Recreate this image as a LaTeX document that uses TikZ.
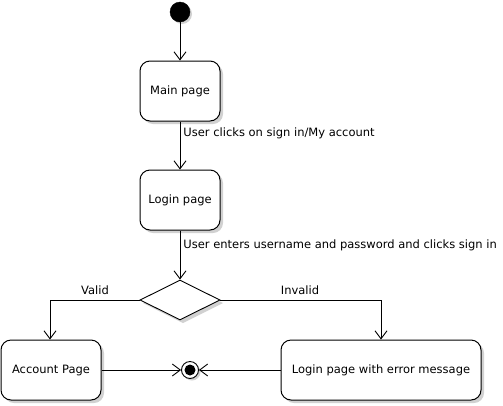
\documentclass[tikz,border=0pt]{standalone}
\usepackage{fontspec}
\setmainfont{DejaVu Sans}
\usetikzlibrary{arrows.meta,shapes.geometric}
\tikzset{
  every node/.style={font=\fontsize{11.5}{13}\selectfont},
  state/.style={draw=black,line width=1pt,rounded corners=10pt,fill=white,align=center,inner sep=0pt},
  shadowbox/.style={fill=black!18,rounded corners=10pt,draw=none},
  conn/.style={draw=black,line width=0.9pt,-{Straight Barb[length=8pt,width=12pt,line width=0.9pt]}},
  lbl/.style={inner sep=0pt,anchor=west},
}
\begin{document}
\begin{tikzpicture}[x=1pt,y=-1pt]
\useasboundingbox (0,0) rectangle (503,405);
% shadows
\fill[black!18] (182,14) circle (10);
\fill[black!18] (192,372) circle (8.5);
\path[shadowbox] (143,64) rectangle (223,124);
\path[shadowbox] (143,173) rectangle (223,233);
\path[shadowbox] (4,343) rectangle (104,403);
\path[shadowbox] (284,343) rectangle (484,403);
\fill[black!18] (183,284) -- (223,303) -- (183,323) -- (143,303) -- cycle;
% nodes
\node[circle,fill=black,draw=black,minimum size=20pt,inner sep=0pt] (start) at (180,12) {};
\node[state,minimum width=80pt,minimum height=60pt] (main) at (180,91) {Main page};
\node[state,minimum width=80pt,minimum height=60pt] (login) at (180,200) {Login page};
\node[diamond,draw=black,line width=0.9pt,fill=white,aspect=2,minimum width=80pt,minimum height=40pt,inner sep=0pt] (dec) at (180,300) {};
\node[state,minimum width=100pt,minimum height=60pt] (acc) at (51,370) {Account Page};
\node[state,minimum width=200pt,minimum height=60pt] (err) at (381,370) {Login page with error message};
\node[circle,draw=black,line width=0.9pt,fill=white,minimum size=17pt,inner sep=0pt] (end) at (190,370) {};
\fill[black] (end.center) circle (5.5);
% connectors
\draw[conn] (start) -- (main);
\draw[conn] (main) -- node[lbl,pos=0.24,xshift=3pt] {User clicks on sign in/My account} (login);
\draw[conn] (login) -- node[lbl,pos=0.3,xshift=3pt] {User enters username and password and clicks sign in} (dec);
\coordinate (vl) at (50,300);
\coordinate (vr) at (381,300);
\draw[conn] (dec.west) -- (vl) -- (acc.north -| vl);
\draw[conn] (dec.east) -- (vr) -- (err.north -| vr);
\node[inner sep=0pt] (valid) at (95,290) {Valid};
\node[inner sep=0pt] (invalid) at (300,290) {Invalid};
\draw[conn] (acc) -- (end);
\draw[conn] (err) -- (end);
\end{tikzpicture}
\end{document}
